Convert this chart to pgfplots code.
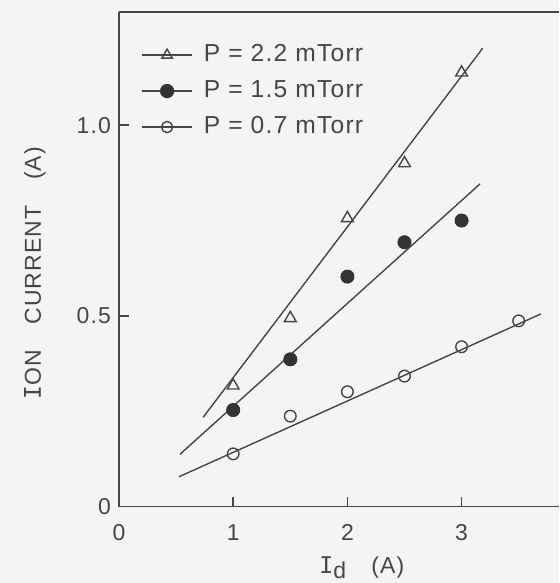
\documentclass[border=0pt]{standalone}
\usepackage{fontspec}
\setmainfont{Liberation Sans}[LetterSpace=5]
\newfontfamily\monof{DejaVu Sans Mono}
\usepackage{pgfplots}
\pgfplotsset{compat=1.18}
\definecolor{bg}{RGB}{245,243,243}
\definecolor{ink}{RGB}{70,70,70}
\begin{document}
\fontsize{11.5}{13.8}\selectfont
\begin{tikzpicture}
\fill[bg] (-59.5pt,-38.25pt) rectangle (220pt,253.25pt);
\begin{axis}[
  at={(0pt,0pt)}, anchor=south west,
  scale only axis, width=220pt, height=247.25pt,
  xmin=0, xmax=3.853, ymin=0, ymax=1.297,
  axis x line*=bottom, axis y line*=left,
  axis line style={ink, line width=0.9pt},
  tick align=inside, major tick length=5pt,
  tick style={ink, line width=0.8pt},
  xtick={0,1,2,3}, ytick={0,0.5,1}, yticklabels={0,0.5,1.0},
  xticklabel style={yshift=-5pt, text=ink},
  yticklabel style={text=ink},
  /pgf/number format/assume math mode=true,
  xlabel={{\monof I}\raisebox{-0.45ex}{d}\hspace{1.1em}(A)},
  xlabel style={at={(axis description cs:0.552,-0.124)}, anchor=center, text=ink},
  ylabel={{\monof I}ON\hspace{1.1em}CURRENT\hspace{1.1em}(A)},
  ylabel style={at={(axis description cs:-0.191,0.472)}, anchor=center, text=ink},
  legend style={at={(axis description cs:0.05,0.94)}, anchor=north west,
    draw=none, fill=none, inner sep=0pt, row sep=5pt, text=ink,
    font=\fontsize{12.3}{14.5}\selectfont,
    nodes={inner sep=1pt, text height=8.6pt, text depth=2.4pt},
    /tikz/every odd column/.append style={column sep=4.5pt}},
  legend cell align=left,
  legend image code/.code={\draw[mark repeat=2,mark phase=2,#1] plot coordinates {(0pt,0pt) (12.5pt,0pt) (25pt,0pt)};},
  clip=false,
]
\draw[ink, line width=0.9pt] (rel axis cs:0,1) -- (rel axis cs:1,1);
% fit lines
\addplot[ink, line width=0.7pt, forget plot] coordinates {(0.737,0.234) (3.185,1.202)};
\addplot[ink, line width=0.7pt, forget plot] coordinates {(0.534,0.137) (3.161,0.846)};
\addplot[ink, line width=0.7pt, forget plot] coordinates {(0.525,0.078) (3.694,0.505)};
% data
\addplot[ink, only marks, mark=triangle, mark size=3.4pt, mark options={fill=bg, line width=0.7pt}, forget plot]
  coordinates {(1.0,0.317) (1.5,0.494) (2.0,0.756) (2.5,0.900) (3.0,1.138)};
\addplot[ink, only marks, mark=*, mark size=3.3pt, mark options={fill=black!80, draw=black!80}, forget plot]
  coordinates {(1.0,0.253) (1.5,0.386) (2.0,0.603) (2.5,0.693) (3.0,0.750)};
\addplot[ink, only marks, mark=o, mark size=2.9pt, mark options={fill=bg, line width=0.7pt}, forget plot]
  coordinates {(1.0,0.138) (1.5,0.237) (2.0,0.301) (2.5,0.342) (3.0,0.419) (3.5,0.487)};
% legend
\addlegendimage{ink, line width=0.7pt, mark=triangle, mark size=3pt, mark options={fill=bg}}
\addlegendentry{P = 2.2 mTorr}
\addlegendimage{ink, line width=0.7pt, mark=*, mark size=3.2pt, mark options={fill=black!80, draw=black!80}}
\addlegendentry{P = 1.5 mTorr}
\addlegendimage{ink, line width=0.7pt, mark=o, mark size=2.8pt, mark options={fill=bg}}
\addlegendentry{P = 0.7 mTorr}
\end{axis}
\pgfresetboundingbox
\useasboundingbox (-59.5pt,-38.25pt) rectangle (220pt,253.25pt);
\end{tikzpicture}
\end{document}
